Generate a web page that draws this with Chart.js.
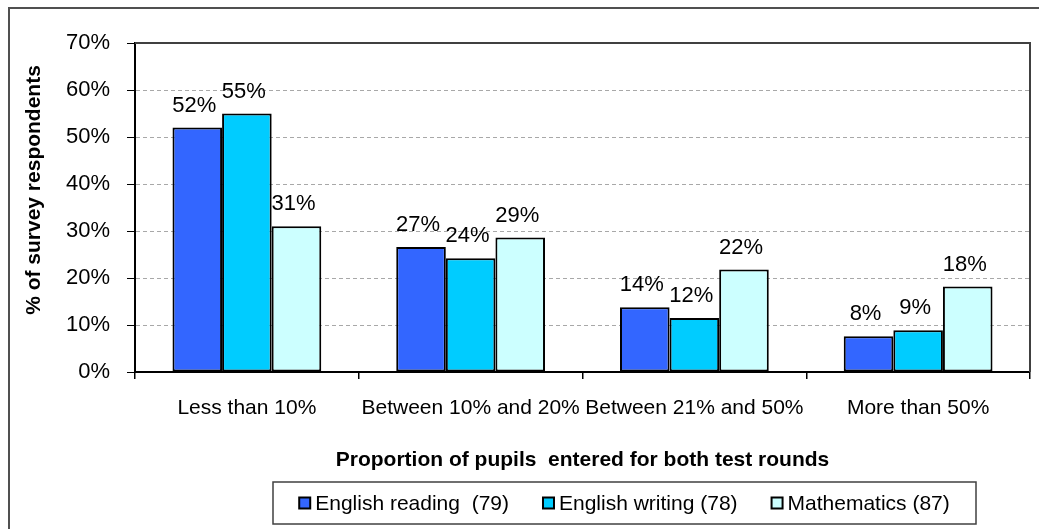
<!DOCTYPE html>
<html>
<head>
<meta charset="utf-8">
<script src="https://cdn.jsdelivr.net/npm/chart.js@4/dist/chart.umd.min.js"></script>
<style>
  html, body { margin: 0; padding: 0; background: #fff; }
  #wrap { width: 1039px; height: 529px; }
</style>
</head>
<body>
<div id="wrap"><canvas id="c"></canvas></div>
<script>
const categories = ['Less than 10%', 'Between 10% and 20%', 'Between 21% and 50%', 'More than 50%'];
const seriesNames = ['English reading  (79)', 'English writing (78)', 'Mathematics (87)'];
const englishReading = [52, 26.6, 13.8, 7.6];
const englishWriting = [55, 24.2, 11.5, 8.9];
const mathematics = [31, 28.6, 21.8, 18.2];
const yTicks = [0, 10, 20, 30, 40, 50, 60, 70];
const yTitle = '% of survey respondents';
const xTitle = 'Proportion of pupils  entered for both test rounds';

const FONT = "'Liberation Sans', Arial, sans-serif";
const colors = ['#3366FF', '#00CCFF', '#CCFFFF'];

const deco = {
  id: 'deco',
  beforeDraw(chart) {
    const ctx = chart.ctx;
    ctx.save();
    ctx.fillStyle = '#fff';
    ctx.fillRect(0, 0, chart.width, chart.height);
    ctx.restore();
  },
  afterDraw(chart) {
    const ctx = chart.ctx;
    const a = chart.chartArea;
    ctx.save();
    // plot area border (top & right)
    ctx.strokeStyle = '#404040';
    ctx.lineWidth = 2;
    ctx.beginPath();
    ctx.moveTo(a.left, a.top);
    ctx.lineTo(a.right, a.top);
    ctx.lineTo(a.right, a.bottom);
    ctx.stroke();
    // outer frame
    ctx.strokeStyle = '#505050';
    ctx.beginPath();
    ctx.moveTo(9, chart.height);
    ctx.lineTo(9, 8);
    ctx.lineTo(chart.width, 8);
    ctx.stroke();

    // data labels
    ctx.fillStyle = '#000';
    ctx.font = '22px ' + FONT;
    ctx.textAlign = 'center';
    ctx.textBaseline = 'middle';
    chart.data.datasets.forEach((ds, i) => {
      const meta = chart.getDatasetMeta(i);
      meta.data.forEach((bar, j) => {
        ctx.fillText(Math.round(ds.data[j]) + '%', bar.x - 3, bar.y - 22);
      });
    });

    // y axis title
    ctx.save();
    ctx.translate(34, 190);
    ctx.rotate(-Math.PI / 2);
    ctx.font = 'bold 21px ' + FONT;
    ctx.fillText(yTitle, 0, 0);
    ctx.restore();

    // legend
    const boxL = 273, boxR = 976, boxT = 482, boxB = 524;
    ctx.strokeStyle = '#404040';
    ctx.lineWidth = 1.5;
    ctx.strokeRect(boxL, boxT, boxR - boxL, boxB - boxT);
    ctx.font = '21px ' + FONT;
    ctx.textAlign = 'left';
    const mk = 11, gapMk = 5, gapItem = 34;
    const widths = chart.data.datasets.map(ds => mk + gapMk + ctx.measureText(ds.label).width);
    const total = widths.reduce((s, w) => s + w, 0) + gapItem * (widths.length - 1);
    let x = (boxL + boxR) / 2 - total / 2;
    const cy = (boxT + boxB) / 2;
    chart.data.datasets.forEach((ds, i) => {
      ctx.fillStyle = ds.backgroundColor;
      ctx.fillRect(x, cy - mk / 2, mk, mk);
      ctx.strokeStyle = '#000';
      ctx.lineWidth = 2;
      ctx.strokeRect(x, cy - mk / 2, mk, mk);
      ctx.fillStyle = '#000';
      ctx.fillText(ds.label, x + mk + gapMk, cy + 1);
      x += widths[i] + gapItem;
    });
    ctx.restore();
  }
};

new Chart(document.getElementById('c'), {
  type: 'bar',
  data: {
    labels: categories,
    datasets: [
      { label: seriesNames[0], data: englishReading, backgroundColor: colors[0] },
      { label: seriesNames[1], data: englishWriting, backgroundColor: colors[1] },
      { label: seriesNames[2], data: mathematics, backgroundColor: colors[2] }
    ]
  },
  options: {
    responsive: true,
    maintainAspectRatio: false,
    animation: false,
    layout: { padding: { top: 43, right: 9, bottom: 45, left: 0 } },
    datasets: {
      bar: {
        categoryPercentage: 0.665,
        barPercentage: 1,
        borderColor: '#000',
        borderWidth: 2,
        borderSkipped: false
      }
    },
    plugins: {
      legend: { display: false },
      tooltip: { enabled: false },
      title: { display: false }
    },
    scales: {
      x: {
        grid: { display: true, drawOnChartArea: false, drawTicks: true, tickLength: 7, color: '#000', tickColor: '#000', lineWidth: 1.5 },
        border: { display: true, color: '#000', width: 2 },
        ticks: { color: '#000', font: { family: FONT, size: 21 }, padding: 17, maxRotation: 0, autoSkip: false },
        title: { display: true, text: xTitle, color: '#000', font: { family: FONT, size: 21, weight: 'bold' }, padding: { top: 0, bottom: 11 } },
        afterFit(scale) { scale.height = 112; }
      },
      y: {
        min: 0,
        max: 70,
        afterBuildTicks(scale) { scale.ticks = yTicks.map(v => ({ value: v })); },
        grid: { color: '#a8a8a8', tickColor: '#000', tickLength: 8, lineWidth: 1 },
        border: { display: true, color: '#000', width: 2, dash: [4, 3] },
        ticks: { color: '#000', font: { family: FONT, size: 22 }, padding: 17, callback: v => v + '%' },
        afterFit(scale) { scale.width = 135; }
      }
    }
  },
  plugins: [deco]
});
</script>
</body>
</html>
